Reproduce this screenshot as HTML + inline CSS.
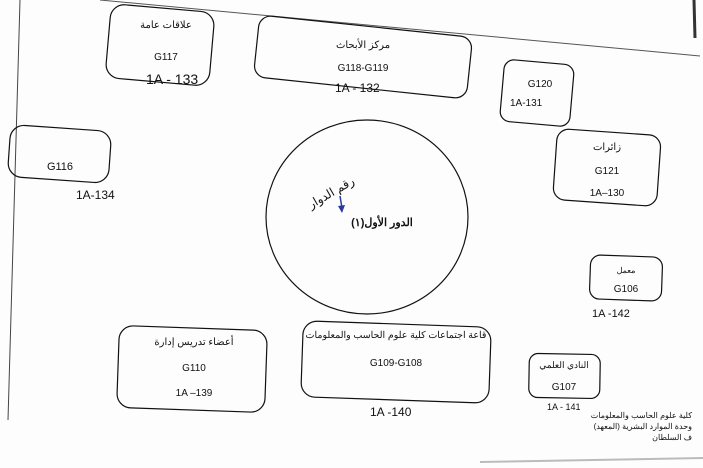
<!DOCTYPE html>
<html><head><meta charset="utf-8"><style>
body{margin:0;background:#fff;}
svg{display:block}
text{font-family:"Liberation Sans","Noto Sans CJK SC",sans-serif;fill:#111;}
.h{fill:#2a3a9a;font-family:"Liberation Sans",sans-serif;}
</style></head><body>
<svg width="703" height="468" viewBox="0 0 703 468">
<rect width="703" height="468" fill="#fdfdfd"/>
<line x1="100" y1="0" x2="700" y2="56" stroke="#555" stroke-width="1"/>
<line x1="20" y1="0" x2="8" y2="420" stroke="#444" stroke-width="1"/>
<line x1="694" y1="0" x2="695" y2="38" stroke="#333" stroke-width="3"/>
<line x1="480" y1="462" x2="703" y2="458" stroke="#bbb" stroke-width="2"/>
<g fill="none" stroke="#111" stroke-width="1.2">
<rect x="108" y="8" width="104" height="74" rx="14" transform="rotate(5 160 45)"/>
<rect x="256" y="26" width="214" height="62" rx="12" transform="rotate(6 363 57)"/>
<rect x="502" y="62" width="70" height="62" rx="10" transform="rotate(5 537 93)"/>
<rect x="9" y="128" width="101" height="52" rx="14" transform="rotate(4 60 154)"/>
<rect x="555" y="132" width="104" height="71" rx="12" transform="rotate(4 607 167)"/>
<ellipse cx="367" cy="217" rx="101" ry="97"/>
<rect x="590" y="256" width="72" height="44" rx="10" transform="rotate(2 626 278)"/>
<rect x="118" y="328" width="148" height="82" rx="14" transform="rotate(2 192 369)"/>
<rect x="302" y="324" width="188" height="76" rx="14" transform="rotate(2 396 362)"/>
<rect x="529" y="354" width="71" height="44" rx="9" transform="rotate(1 565 376)"/>
</g>
<g font-size="10" text-anchor="middle">
<text x="166" y="28">علاقات عامة</text>
<text x="166" y="60">G117</text>
<text x="363" y="48">مركز الأبحاث</text>
<text x="363" y="71">G118-G119</text>
<text x="540" y="87">G120</text>
<text x="60" y="170" font-size="11">G116</text>
<text x="607" y="150">زائرات</text>
<text x="607" y="174">G121</text>
<text x="607" y="196">1A–130</text>
<text x="382" y="226" font-weight="bold" font-size="11">الدور الأول(١)</text>
<text x="626" y="273" font-size="8">معمل</text>
<text x="626" y="292">G106</text>
<text x="194" y="345">أعضاء تدريس إدارة</text>
<text x="194" y="371">G110</text>
<text x="194" y="396">1A –139</text>
<text x="396" y="338" font-size="9.5">قاعة اجتماعات كلية علوم الحاسب والمعلومات</text>
<text x="396" y="366">G109-G108</text>
<text x="564" y="368" font-size="9">النادي العلمي</text>
<text x="564" y="390">G107</text>
</g>
<g font-size="8" text-anchor="end">
<text x="692" y="418">كلية علوم الحاسب والمعلومات</text>
<text x="692" y="429">وحدة الموارد البشرية (المعهد)</text>
<text x="692" y="440">ف السلطان</text>
</g>
<g class="h" font-size="14">
<text x="146" y="84">1A - 133</text>
<text x="335" y="92" font-size="12">1A - 132</text>
<text x="510" y="106" font-size="10">1A-131</text>
<text x="76" y="199" font-size="12">1A-134</text>
<text x="592" y="317" font-size="11">1A -142</text>
<text x="370" y="416" font-size="12">1A -140</text>
<text x="547" y="410" font-size="9">1A - 141</text>
<text x="306" y="200" font-size="12" transform="rotate(-30 325 195)" style="font-family:'Liberation Sans','Noto Sans CJK SC',sans-serif">رقم الدوار</text>
</g>
<path d="M340 196 L342 208" stroke="#2a3a9a" stroke-width="1.5"/>
<path d="M338 206 L342 213 L345 205 Z" fill="#2a3a9a"/>
</svg>
</body></html>
